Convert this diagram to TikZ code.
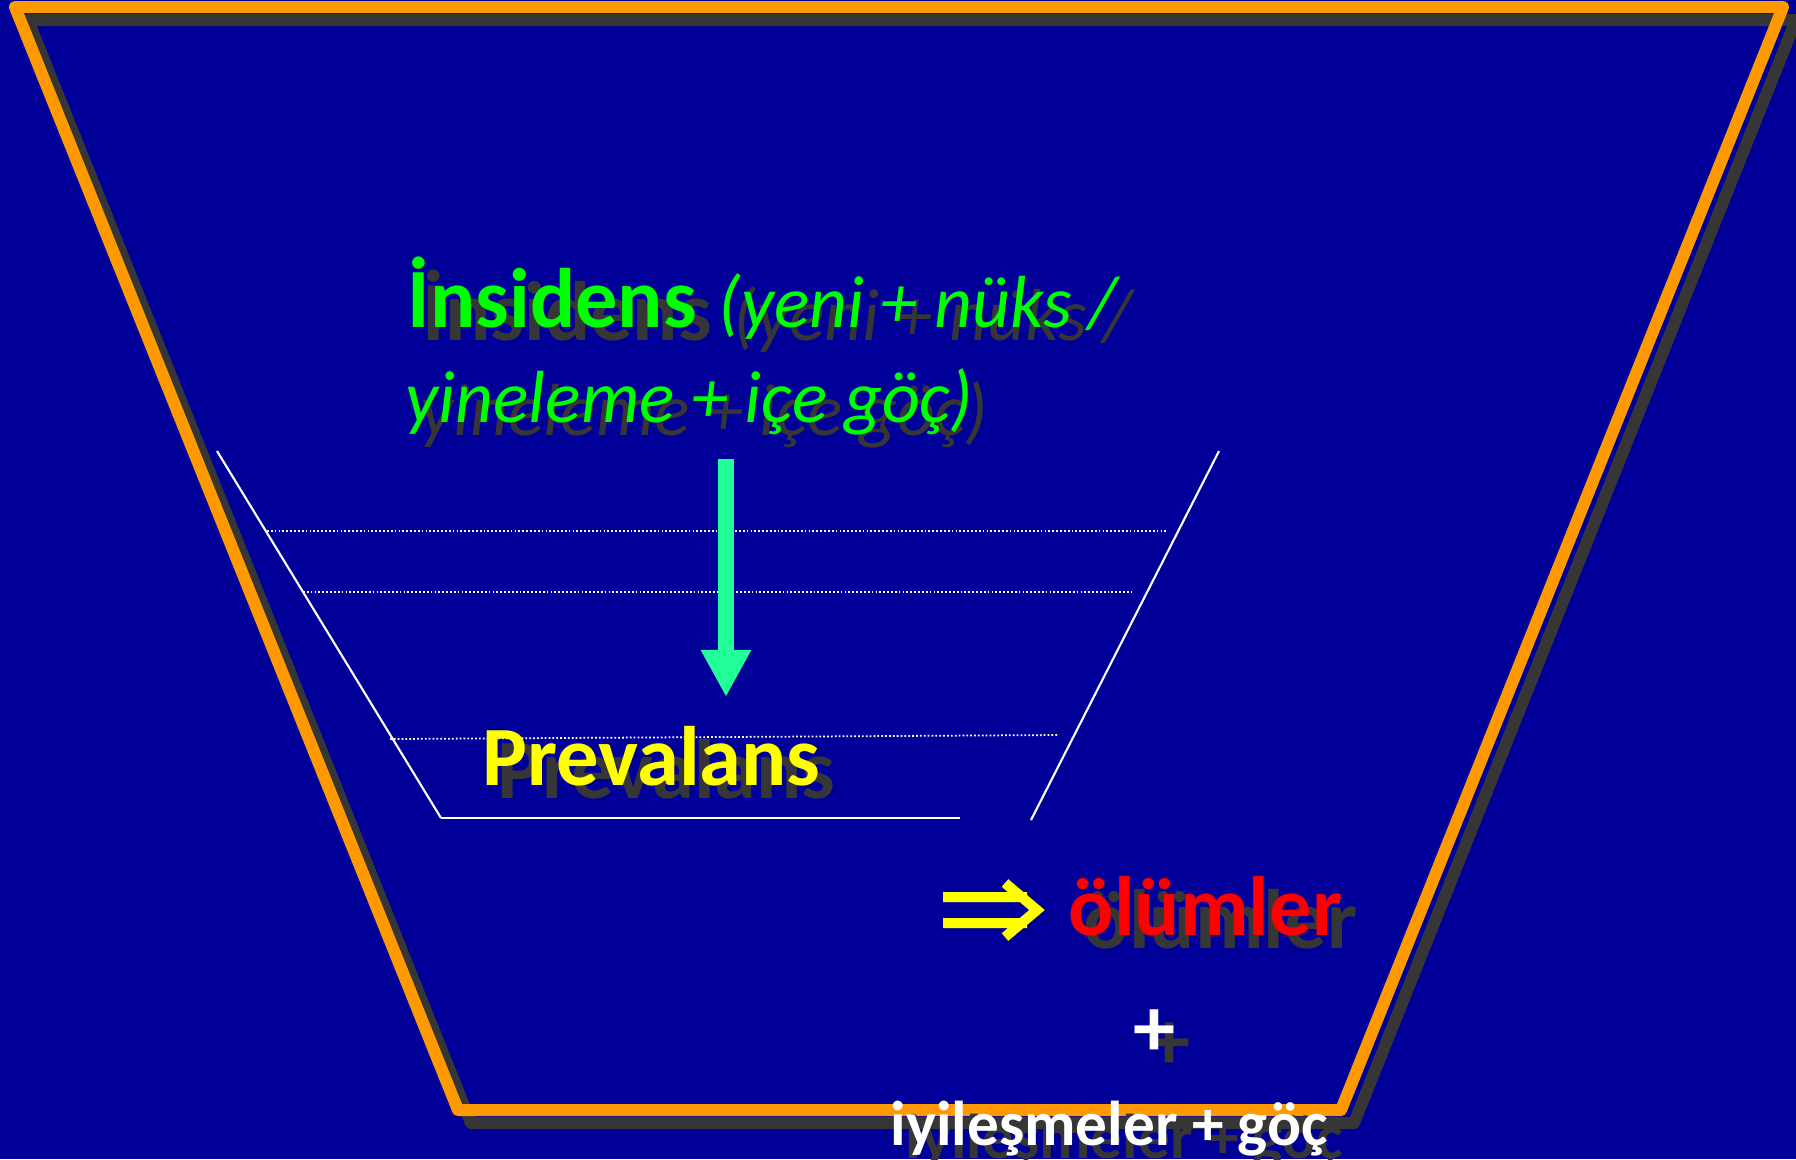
\documentclass[tikz,border=0pt]{standalone}
\usepackage{fontspec}
\setmainfont{Carlito}
\usepackage{tikz}
\usetikzlibrary{
  arrows.meta,
  calc
}
\definecolor{fnBack}{HTML}{000099}
\definecolor{fnRim}{HTML}{FF9900}
\definecolor{fnShade}{HTML}{363636}
\definecolor{fnGreen}{HTML}{00FF00}
\definecolor{fnFlow}{HTML}{22FF99}
\definecolor{fnYellow}{HTML}{FFFF00}
\definecolor{fnRed}{HTML}{FF0000}
\tikzset{
  rim/.style={draw=fnRim, line width=1.2mm, line join=round},
  rimshade/.style={rim, draw=fnShade},
  wall/.style={draw=white, line width=0.6pt},
  fillline/.style={draw=white, line width=0.5pt, dash pattern=on 0.5pt off 0.6pt},
  flow/.style={-{Triangle[length=4.7mm, width=4.7mm]}, line width=1.6mm, draw=fnFlow},
  dbl/.style={draw=fnYellow, line width=1mm, line join=miter},
  dblshade/.style={dbl, draw=fnShade},
  txt/.style={inner sep=0pt, anchor=base west},
  shadetxt/.style={txt, text=fnShade},
  txtbig/.style={font=\fontsize{24}{28}\selectfont\bfseries},
  txtit/.style={font=\fontsize{21}{26}\selectfont\itshape},
  txtsmall/.style={font=\fontsize{18}{22}\selectfont\bfseries}
}
\begin{document}
\begin{tikzpicture}[x=0.01cm, y=-0.01cm]
  \fill[fnBack] (0,0) rectangle (1796,1159);
  \useasboundingbox (0,0) rectangle (1796,1159);
  \draw[rimshade, shift={(13,13)}] (15,7) -- (1783,7) -- (1341,1110) -- (458,1110) -- cycle;
  \draw[rim] (15,7) -- (1783,7) -- (1341,1110) -- (458,1110) -- cycle;
  \draw[wall] (217,451) -- (441,818);
  \draw[wall, line width=0.8pt] (441,818) -- (960,818);
  \draw[wall] (1219,451) -- (1031,820);
  \draw[fillline] (267,531) -- (1166,531);
  \draw[fillline] (303,592) -- (1132,592);
  \draw[fillline] (390,739) -- (1059,735);
  \coordinate (flowTop) at (726,459);
  \coordinate (flowTip) at (726,697);
  \draw[flow] (flowTop) -- (flowTip);
  \coordinate (insPos) at (407,327);
  \coordinate (notePos) at (718,327);
  \coordinate (note2Pos) at (405,422);
  \coordinate (prevPos) at (482,785);
  \coordinate (dblPos) at (943,910);
  \coordinate (olumPos) at (1068,935);
  \coordinate (plusPos) at (1155,1056);
  \coordinate (iyiPos) at (890,1145);
  \node[shadetxt, txtbig] (insS) at ([shift={(15,13)}]insPos) {İnsidens};
  \node[shadetxt, txtit] (noteS) at ([shift={(15,13)}]notePos) {(yeni + nüks /};
  \node[shadetxt, txtit] (note2S) at ([shift={(15,13)}]note2Pos) {yineleme + içe göç)};
  \node[shadetxt, txtbig] (prevS) at ([shift={(15,13)}]prevPos) {Prevalans};
  \draw[dblshade, shift={(15,13)}] ([shift={(0,-13)}]dblPos) -- ++(84,0) ([shift={(0,13)}]dblPos) -- ++(84,0)
    ([shift={(62,-27)}]dblPos) -- ++(32,27) -- ++(-32,27);
  \node[shadetxt, txtbig] (olumS) at ([shift={(15,13)}]olumPos) {ölümler};
  \node[shadetxt, txtbig, anchor=base] (plusS) at ([shift={(15,13)}]plusPos) {+};
  \node[shadetxt, txtsmall] (iyiS) at ([shift={(15,13)}]iyiPos) {iyileşmeler + göç};
  \node[txt, txtbig, text=fnGreen] (ins) at (insPos) {İnsidens};
  \node[txt, txtit, text=fnGreen] (note) at (notePos) {(yeni + nüks /};
  \node[txt, txtit, text=fnGreen] (note2) at (note2Pos) {yineleme + içe göç)};
  \node[txt, txtbig, text=fnYellow] (prev) at (prevPos) {Prevalans};
  \draw[dbl] ([shift={(0,-13)}]dblPos) -- ++(84,0) ([shift={(0,13)}]dblPos) -- ++(84,0)
    ([shift={(62,-27)}]dblPos) -- ++(32,27) -- ++(-32,27);
  \node[txt, txtbig, text=fnRed] (olum) at (olumPos) {ölümler};
  \node[txt, txtbig, text=white, anchor=base] (plus) at (plusPos) {+};
  \node[txt, txtsmall, text=white] (iyi) at (iyiPos) {iyileşmeler + göç};
\end{tikzpicture}
\end{document}
